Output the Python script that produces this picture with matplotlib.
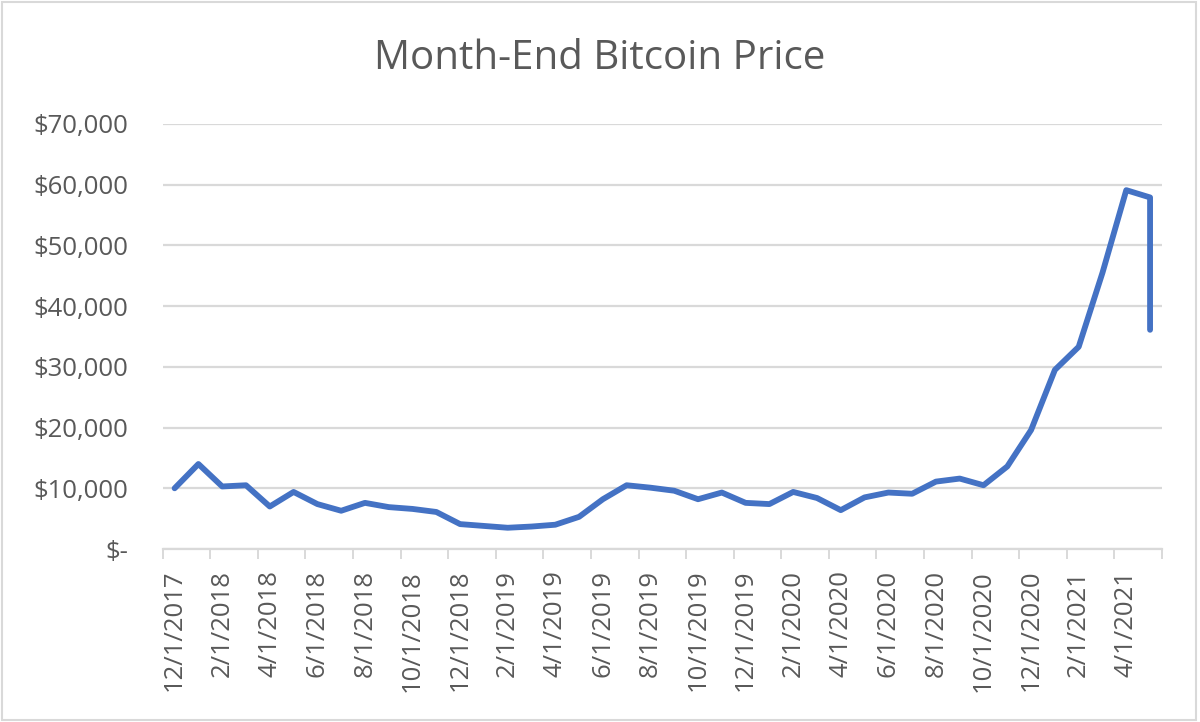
"""Month-end Bitcoin price line chart (Excel-style look)."""
import matplotlib
matplotlib.use("Agg")
import matplotlib.pyplot as plt
import numpy as np
import pandas as pd
from matplotlib.patches import Rectangle
from matplotlib.ticker import FixedLocator, FuncFormatter

# one value per month; May 2021 carries two readings (drawn as a vertical drop)
dates = list(pd.date_range("2017-12-01", "2021-05-01", freq="MS")) + [pd.Timestamp("2021-05-01")]
prices = [
    10000, 14000, 10300, 10500, 7000, 9400, 7400, 6300, 7600, 6900, 6600, 6100,
    4100, 3800, 3500, 3700, 4000, 5300, 8200, 10500, 10100, 9600, 8200, 9300,
    7600, 7400, 9400, 8400, 6400, 8500, 9300, 9100, 11100, 11600, 10500, 13600,
    19600, 29500, 33300, 45500, 59100, 57900, 36100,
]
y_ticks = [0, 10000, 20000, 30000, 40000, 50000, 60000, 70000]

TEXT = "#595959"
GRID = "#d9d9d9"
BLUE = "#4472C4"

plt.rcParams["font.family"] = ["Open Sans", "DejaVu Sans"]

start = dates[0]
x = np.array([(d.year - start.year) * 12 + d.month - start.month for d in dates])
n_months = x.max() + 1

fig = plt.figure(figsize=(12, 7.22), dpi=100)
ax = fig.add_axes([0.1356, 0.2396, 0.8327, 0.5887])

ax.plot(x, prices, color=BLUE, lw=4.2, solid_joinstyle="round", solid_capstyle="round", zorder=3)

ax.set_xlim(-0.5, n_months - 0.5)
ax.set_ylim(0, 70000)

ax.yaxis.set_major_locator(FixedLocator(y_ticks))
ax.yaxis.set_major_formatter(FuncFormatter(lambda v, _: "$-" if v == 0 else f"${v:,.0f}"))
ax.grid(axis="y", color=GRID, lw=1.6)
ax.set_axisbelow(True)
ax.tick_params(axis="y", length=0, pad=25, labelsize=18.5, labelcolor=TEXT)

label_pos = np.arange(0, n_months, 2)
ax.set_xticks(label_pos)
ax.set_xticklabels([f"{d.month}/1/{d.year}" for d in pd.date_range(start, periods=len(label_pos), freq="2MS")],
                   rotation=90)
ax.tick_params(axis="x", which="major", length=0, pad=15, labelsize=18.5, labelcolor=TEXT)
ax.set_xticks(np.arange(-0.5, n_months, 2), minor=True)
ax.tick_params(axis="x", which="minor", length=7, width=1.4, color=GRID)

for side in ("left", "right", "top"):
    ax.spines[side].set_visible(False)
ax.spines["bottom"].set_color(GRID)
ax.spines["bottom"].set_linewidth(1.6)

fig.text(0.5, 0.918, "Month-End Bitcoin Price", ha="center", va="center", fontsize=29, color=TEXT)
fig.patches.append(Rectangle((0.002, 0.003), 0.995, 0.994, transform=fig.transFigure,
                             fill=False, edgecolor=GRID, lw=1.5))

fig.savefig("out.png", dpi=100)
